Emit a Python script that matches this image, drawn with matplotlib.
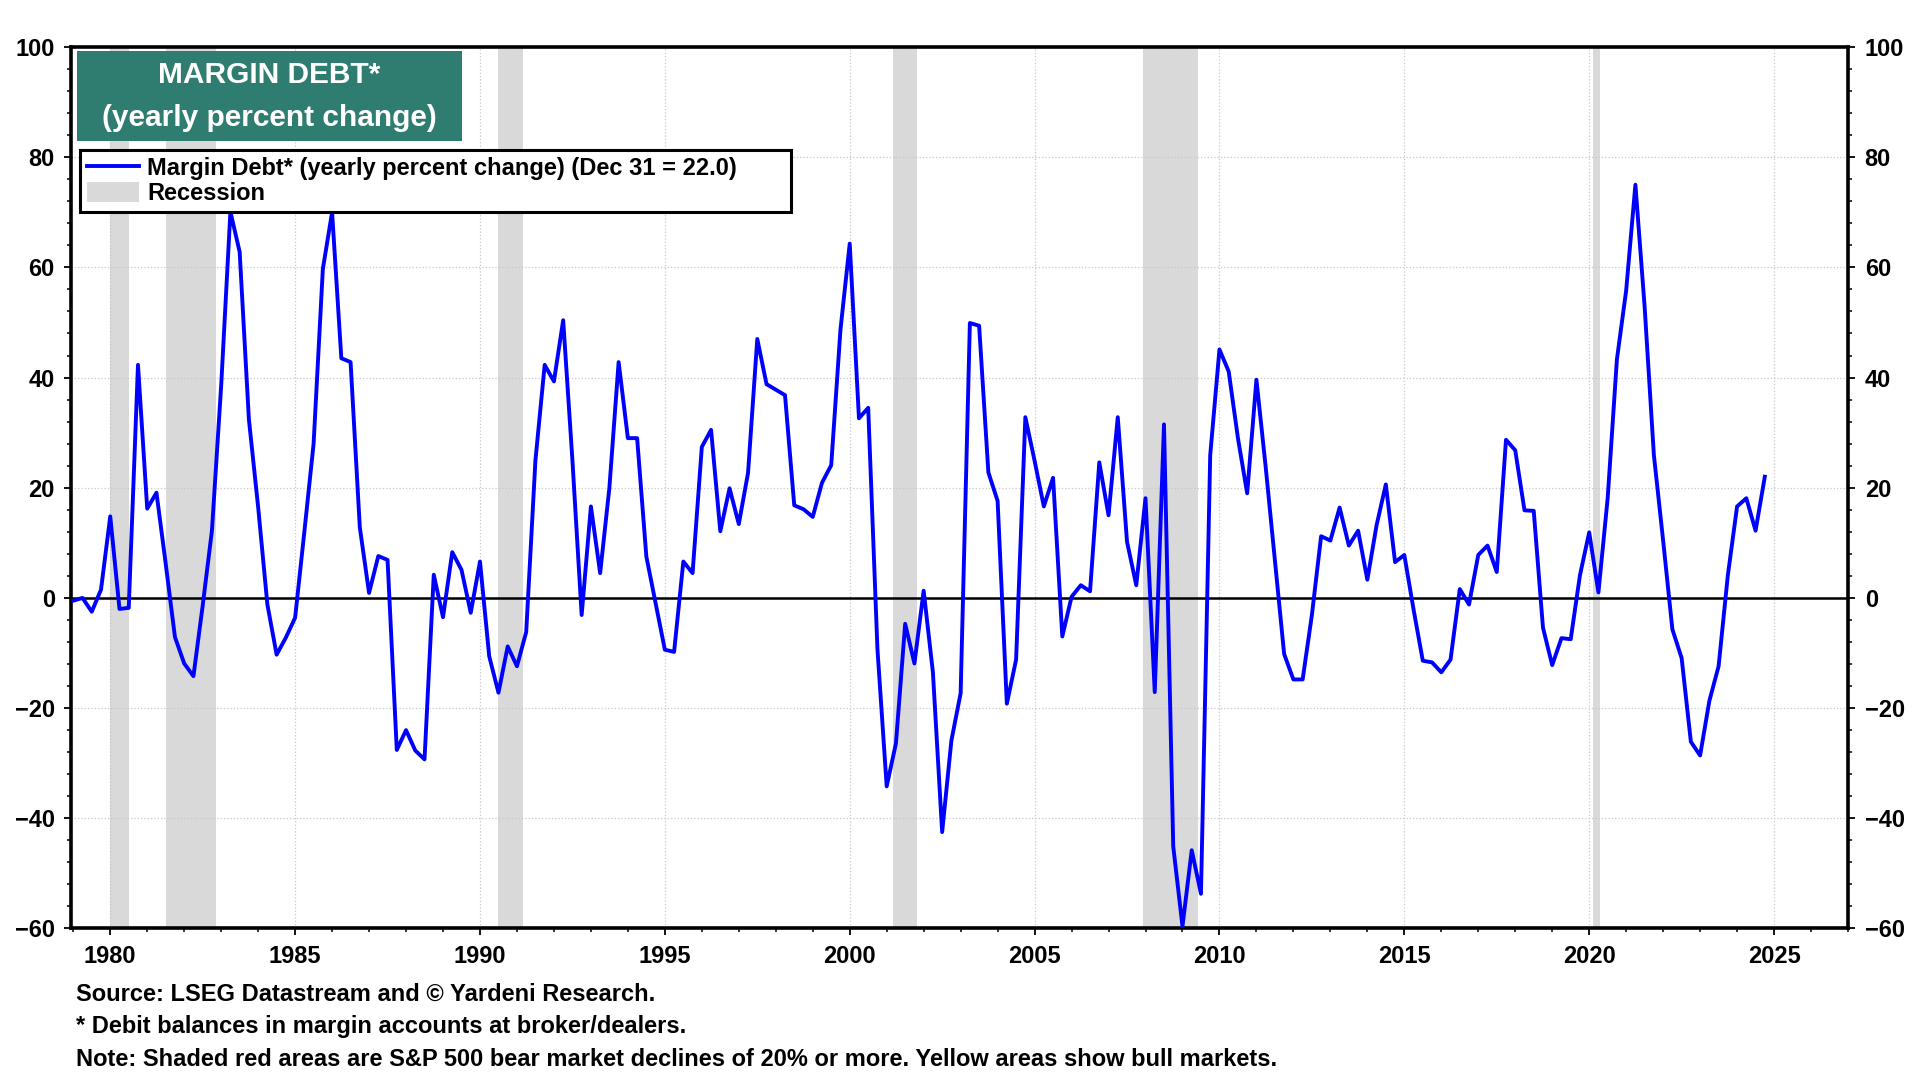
import numpy as np
import matplotlib
matplotlib.use('Agg')
import matplotlib.pyplot as plt
from matplotlib.patches import Rectangle, Patch
from matplotlib.lines import Line2D
from matplotlib.ticker import MultipleLocator

plt.rcParams['font.family'] = ['Liberation Sans', 'DejaVu Sans']
plt.rcParams['font.weight'] = 'bold'

# quarterly yearly percent change of margin debt, 1979Q1 .. 2024Q4
start_year = 1979
margin_debt = [
    -0.5, 0.0, -2.5, 1.5,        # 1979
    14.8, -2.0, -1.8, 42.3,      # 1980
    16.2, 19.1, 6.2, -7.1,       # 1981
    -11.9, -14.2, -1.4, 12.2,    # 1982
    38.5, 70.1, 62.8, 32.4,      # 1983
    16.5, -1.2, -10.3, -7.2,     # 1984
    -3.6, 12.0, 28.0, 59.7,      # 1985
    70.0, 43.5, 42.8, 12.8,      # 1986
    0.9, 7.6, 6.9, -27.6,        # 1987
    -24.0, -27.7, -29.3, 4.2,    # 1988
    -3.5, 8.3, 5.1, -2.7,        # 1989
    6.6, -10.6, -17.2, -8.8,     # 1990
    -12.4, -6.2, 25.0, 42.3,     # 1991
    39.3, 50.4, 25.0, -3.1,      # 1992
    16.6, 4.5, 20.0, 42.8,       # 1993
    29.0, 29.0, 7.5, -1.0,       # 1994
    -9.4, -9.8, 6.6, 4.5,        # 1995
    27.4, 30.5, 12.1, 19.9,      # 1996
    13.4, 22.7, 47.0, 38.8,      # 1997
    37.8, 36.8, 16.8, 16.1,      # 1998
    14.7, 20.9, 24.1, 48.7,      # 1999
    64.3, 32.6, 34.5, -9.3,      # 2000
    -34.2, -26.4, -4.7, -11.9,   # 2001
    1.3, -13.5, -42.5, -25.9,    # 2002
    -17.3, 49.9, 49.4, 22.8,     # 2003
    17.6, -19.2, -11.2, 32.8,    # 2004
    24.9, 16.6, 21.8, -7.0,      # 2005
    0.2, 2.3, 1.2, 24.6,         # 2006
    15.0, 32.8, 10.2, 2.3,       # 2007
    18.1, -17.1, 31.5, -45.1,    # 2008
    -59.6, -45.8, -53.7, 25.9,   # 2009
    45.1, 41.1, 29.0, 19.0,      # 2010
    39.6, 23.8, 6.7, -10.2,      # 2011
    -14.8, -14.8, -3.1, 11.2,    # 2012
    10.4, 16.4, 9.5, 12.2,       # 2013
    3.3, 13.2, 20.6, 6.5,        # 2014
    7.8, -2.1, -11.4, -11.7,     # 2015
    -13.5, -11.2, 1.6, -1.2,     # 2016
    7.8, 9.5, 4.7, 28.7,         # 2017
    26.8, 15.9, 15.8, -5.4,      # 2018
    -12.2, -7.3, -7.5, 4.1,      # 2019
    11.9, 1.0, 18.1, 43.3,       # 2020
    55.8, 75.0, 52.8, 25.9,      # 2021
    10.4, -5.7, -10.9, -26.1,    # 2022
    -28.6, -18.7, -12.4, 4.1,    # 2023
    16.6, 18.1, 12.2, 22.0,      # 2024
]
dates = start_year + 0.25 * np.arange(len(margin_debt))

# recession periods (decimal years)
rec_start = [1980.0, 1981.5, 1990.5, 2001.17, 2007.92, 2020.1]
rec_end = [1980.5, 1982.87, 1991.17, 2001.83, 2009.42, 2020.29]

year_ticks = list(range(1980, 2030, 5))
y_ticks = list(range(-60, 101, 20))

fig = plt.figure(figsize=(19.2, 10.8), dpi=100)
ax = fig.add_axes([0.0372, 0.1403, 0.9253, 0.8162])

for s, e in zip(rec_start, rec_end):
    ax.axvspan(s, e, color='#d9d9d9', lw=0, zorder=0)

ax.plot(dates, margin_debt, color='#0000ff', lw=2.8, zorder=4)
ax.axhline(0, color='black', lw=1.8, zorder=3)

ax.set_xlim(1978.95, 2027.0)
ax.set_ylim(-60, 100)
ax.set_xticks(year_ticks)
ax.xaxis.set_minor_locator(MultipleLocator(1))
ax.set_yticks(y_ticks)
ax.yaxis.set_minor_locator(MultipleLocator(4))
ax.grid(True, which='major', ls=':', color='#c8c8c8', lw=0.9, zorder=1)

ax.tick_params(axis='both', which='major', direction='out', length=5, width=1.3,
               labelsize=17, pad=7)
ax.tick_params(axis='both', which='minor', direction='out', length=3, width=1.1)
ax.tick_params(axis='y', which='both', left=True, right=True,
               labelleft=True, labelright=True)
for lab in ax.get_xticklabels() + ax.get_yticklabels():
    lab.set_fontweight('bold')
for side in ['left', 'right', 'top', 'bottom']:
    ax.spines[side].set_linewidth(2.6)

# title box
ax.add_patch(Rectangle((0.0031, 0.8934), 0.2167, 0.1021, transform=ax.transAxes,
                       facecolor='#2f7d70', edgecolor='none', zorder=6))
ax.text(0.1115, 0.9685, 'MARGIN DEBT*', transform=ax.transAxes, ha='center',
        va='center', color='white', fontsize=21.5, fontweight='bold', zorder=7)
ax.text(0.1115, 0.9195, '(yearly percent change)', transform=ax.transAxes,
        ha='center', va='center', color='white', fontsize=21.5, fontweight='bold',
        zorder=7)

handles = [Line2D([0], [0], color='#0000ff', lw=2.8),
           Patch(facecolor='#d9d9d9', edgecolor='none')]
labels = ['Margin Debt* (yearly percent change) (Dec 31 = 22.0)', 'Recession']
leg = ax.legend(handles, labels, loc='upper left',
                bbox_to_anchor=(0.0048, 0.8117, 0.4002, 0.0715), mode='expand',
                borderaxespad=0, fancybox=False, framealpha=1, edgecolor='black',
                prop={'weight': 'bold', 'size': 17}, handlelength=2.2,
                handleheight=0.9, handletextpad=0.35, labelspacing=0.1,
                borderpad=0.3)
leg.get_frame().set_linewidth(2.2)
leg.set_zorder(8)

fig.text(0.0396, 0.0790, 'Source: LSEG Datastream and \u00a9 Yardeni Research.',
         fontsize=17, fontweight='bold', va='center')
fig.text(0.0396, 0.0494, '* Debit balances in margin accounts at broker/dealers.',
         fontsize=17, fontweight='bold', va='center')
fig.text(0.0396, 0.0188, 'Note: Shaded red areas are S&P 500 bear market declines of 20% or more. '
         'Yellow areas show bull markets.', fontsize=17, fontweight='bold', va='center')

fig.savefig('out.png', dpi=100)
